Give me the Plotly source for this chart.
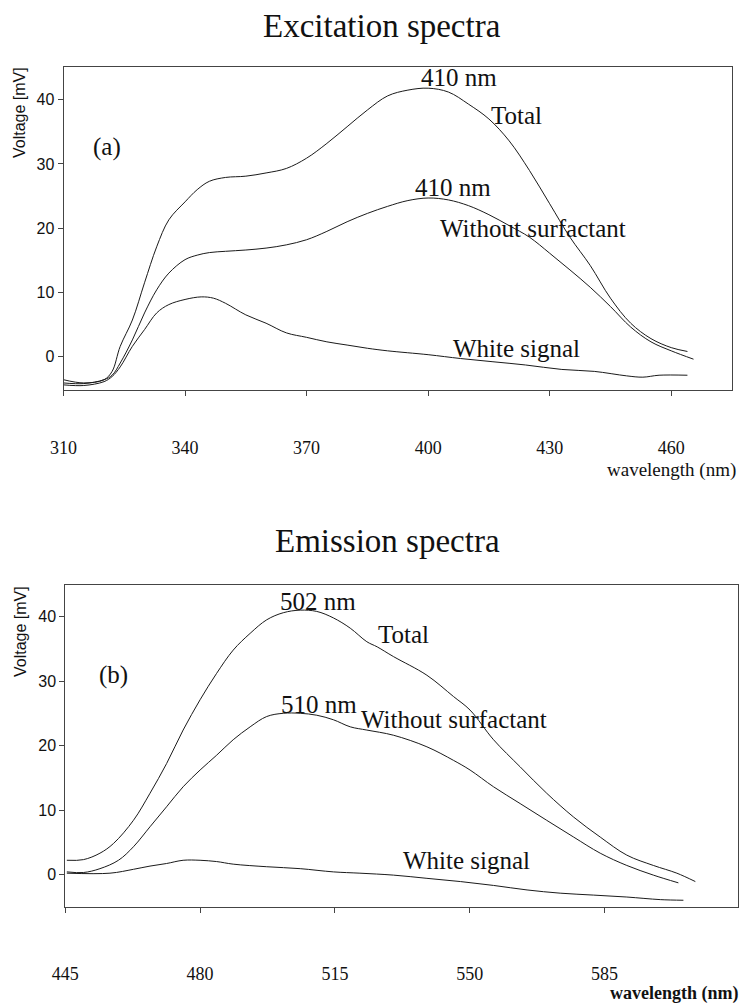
import plotly.graph_objects as go

# ---- Excitation spectra (a) ----
exc_total_nm = [310, 315, 320, 322, 324, 327, 330, 333, 336, 340, 343, 346, 350, 355, 360, 365,
                370, 375, 380, 385, 390, 395, 400, 405, 410, 415, 420, 425, 430, 435, 440, 445,
                450, 455, 460, 464]
exc_total_mv = [-3.6, -4.1, -3.6, -2.3, 1.6, 5.7, 11.5, 17.1, 21.3, 24.1, 26.0, 27.3, 27.9, 28.1,
                28.6, 29.3, 30.9, 33.2, 35.8, 38.4, 40.6, 41.5, 41.8, 41.2, 39.3, 37.0, 33.6, 29.0,
                23.8, 18.6, 14.2, 9.1, 5.2, 2.8, 1.4, 0.8]

exc_nosurf_nm = [310, 315, 320, 322, 324, 327, 330, 333, 336, 340, 343, 346, 350, 355, 360, 365,
                 370, 375, 380, 385, 390, 395, 400, 405, 410, 415, 420, 425, 430, 435, 440, 445,
                 450, 455, 460, 465.5]
exc_nosurf_mv = [-4.1, -4.2, -3.6, -2.9, -1.0, 2.6, 6.8, 10.4, 13.0, 15.1, 15.8, 16.2, 16.4, 16.6,
                 16.9, 17.4, 18.2, 19.5, 21.0, 22.3, 23.4, 24.3, 24.7, 24.4, 23.5, 22.1, 20.4, 18.6,
                 16.1, 13.5, 10.8, 7.8, 4.6, 2.3, 0.9, -0.4]

exc_white_nm = [310, 315, 320, 322, 324, 327, 330, 333, 336, 340, 344, 347, 350, 355, 360, 365,
                370, 375, 380, 385, 390, 400, 408, 416, 424, 433, 441, 449, 453, 457, 464]
exc_white_mv = [-4.4, -4.5, -3.9, -3.1, -1.6, 1.6, 4.2, 6.8, 8.1, 8.9, 9.3, 9.1, 8.3, 6.5, 5.2, 3.7,
                3.0, 2.3, 1.8, 1.3, 0.9, 0.3, -0.3, -0.8, -1.3, -2.0, -2.3, -3.0, -3.2, -2.9, -2.9]

# ---- Emission spectra (b) ----
em_total_nm = [445.4, 449.7, 454, 457.5, 462.7, 467, 471.3, 475.6, 480, 484.3, 488.6, 493, 497.3,
               501.6, 506, 510.3, 514.6, 519, 523.3, 526, 530.2, 538.9, 545.8, 550.1, 556.2, 563.1,
               570, 577, 583.9, 590.8, 597.7, 603.8, 608.6]
em_total_mv = [2.2, 2.3, 3.3, 4.8, 8.4, 12.6, 17.2, 22.4, 27.1, 31.2, 34.8, 37.4, 39.5, 40.6, 41.0,
               40.8, 39.8, 38.2, 36.1, 35.3, 33.8, 30.9, 27.6, 25.5, 20.9, 16.7, 12.6, 8.9, 5.8, 3.0,
               1.4, 0.2, -1.1]

em_nosurf_nm = [445.4, 449.7, 454, 458.8, 462.7, 467, 471.3, 475.6, 480, 484.3, 488.6, 493, 497.3,
                501.6, 506, 510.3, 514.6, 519, 523.3, 530.2, 538.9, 545.8, 550.1, 556.2, 563.1, 570,
                577, 583.9, 590.8, 597.7, 604.2]
em_nosurf_mv = [0.4, 0.3, 0.9, 2.2, 4.3, 7.4, 10.5, 13.6, 16.2, 18.5, 20.9, 22.9, 24.5, 25.0, 25.0,
                24.7, 24.0, 22.9, 22.4, 21.6, 19.8, 17.7, 16.2, 13.6, 11.0, 8.4, 5.8, 3.3, 1.4, -0.1,
                -1.3]

em_white_nm = [445.4, 456.6, 462.7, 467, 471.3, 475.6, 480, 484.3, 488.6, 497.3, 506, 514.6, 521.5,
               530.2, 538.9, 547.6, 556.2, 564.9, 573.5, 582.2, 590.8, 599.5, 605.5]
em_white_mv = [0.2, 0.2, 0.8, 1.3, 1.7, 2.2, 2.2, 2.0, 1.6, 1.2, 0.9, 0.4, 0.2, -0.1, -0.6, -1.1,
               -1.7, -2.4, -2.9, -3.2, -3.5, -3.9, -4.0]

exc_ticks = [310, 340, 370, 400, 430, 460]
em_ticks = [445, 480, 515, 550, 585]
volt_ticks = [0, 10, 20, 30, 40]

LINE = dict(color="#1a1a1a", width=1, shape="spline", smoothing=1.0)
SERIF = "Liberation Serif, Times New Roman, serif"
SANS = "Liberation Sans, Arial, sans-serif"

fig = go.Figure()
for xs, ys in [(exc_total_nm, exc_total_mv), (exc_nosurf_nm, exc_nosurf_mv),
               (exc_white_nm, exc_white_mv)]:
    fig.add_trace(go.Scatter(x=xs, y=ys, mode="lines", line=LINE, xaxis="x", yaxis="y",
                             showlegend=False, hoverinfo="skip"))
for xs, ys in [(em_total_nm, em_total_mv), (em_nosurf_nm, em_nosurf_mv),
               (em_white_nm, em_white_mv)]:
    fig.add_trace(go.Scatter(x=xs, y=ys, mode="lines", line=LINE, xaxis="x2", yaxis="y2",
                             showlegend=False, hoverinfo="skip"))

xcommon = dict(showline=True, mirror=True, linecolor="#444", linewidth=1, showgrid=False,
               zeroline=False, ticks="outside", ticklen=5, tickcolor="#444", automargin=False,
               tickfont=dict(family=SERIF, size=18, color="#111"))
ycommon = dict(showline=True, mirror=True, linecolor="#444", linewidth=1, showgrid=False,
               zeroline=False, ticks="outside", ticklen=5, tickcolor="#444", automargin=False,
               tickfont=dict(family=SANS, size=16, color="#111"), tickvals=volt_ticks)

W, H = 744, 1004
fig.update_layout(
    width=W, height=H, margin=dict(l=0, r=0, t=0, b=0),
    paper_bgcolor="white", plot_bgcolor="white",
    xaxis=dict(**xcommon, domain=[63.5 / W, 732 / W], range=[310, 475], tickvals=exc_ticks,
               anchor="y", ticklabelstandoff=36),
    yaxis=dict(**ycommon, domain=[1 - 390 / H, 1 - 67 / H], range=[-5.2, 45.1], anchor="x"),
    xaxis2=dict(**xcommon, domain=[65.3 / W, 737.7 / W], range=[445, 619.6], tickvals=em_ticks,
                anchor="y2", ticklabelstandoff=46),
    yaxis2=dict(**ycommon, domain=[1 - 906.7 / H, 1 - 585 / H], range=[-5.0, 44.9], anchor="x2"),
)

def label(text, x, y, xref, yref, size=25, family=SERIF, xanchor="center", **kw):
    fig.add_annotation(text=text, x=x, y=y, xref=xref, yref=yref, showarrow=False,
                       xanchor=xanchor, yanchor="middle",
                       font=dict(family=family, size=size, color="#111"), **kw)

# curve labels, panel (a)
label("(a)", 320.7, 32.7, "x", "y")
label("410 nm", 407.5, 43.4, "x", "y")
label("Total", 421.7, 37.6, "x", "y")
label("410 nm", 406.1, 26.4, "x", "y")
label("Without surfactant", 425.9, 20.0, "x", "y")
label("White signal", 421.9, 1.2, "x", "y")

# curve labels, panel (b)
label("(b)", 457.4, 31.0, "x2", "y2")
label("502 nm", 510.6, 42.3, "x2", "y2")
label("Total", 532.8, 37.2, "x2", "y2")
label("510 nm", 511.0, 26.3, "x2", "y2")
label("Without surfactant", 546.0, 24.0, "x2", "y2")
label("White signal", 549.1, 2.2, "x2", "y2")

# titles and axis captions
label("Excitation spectra", 382 / W, 1 - 26 / H, "paper", "paper", size=33)
label("Emission spectra", 387 / W, 1 - 541 / H, "paper", "paper", size=33)
label("Voltage [mV]", 19 / W, 1 - 113 / H, "paper", "paper", size=16, family=SANS, textangle=-90)
label("Voltage [mV]", 20 / W, 1 - 632 / H, "paper", "paper", size=16, family=SANS, textangle=-90)
label("wavelength (nm)", 738 / W, 1 - 470 / H, "paper", "paper", size=19, xanchor="right")
label("<b>wavelength (nm)</b>", 741 / W, 1 - 993 / H, "paper", "paper", size=18, xanchor="right")

fig.write_html("out.html")
